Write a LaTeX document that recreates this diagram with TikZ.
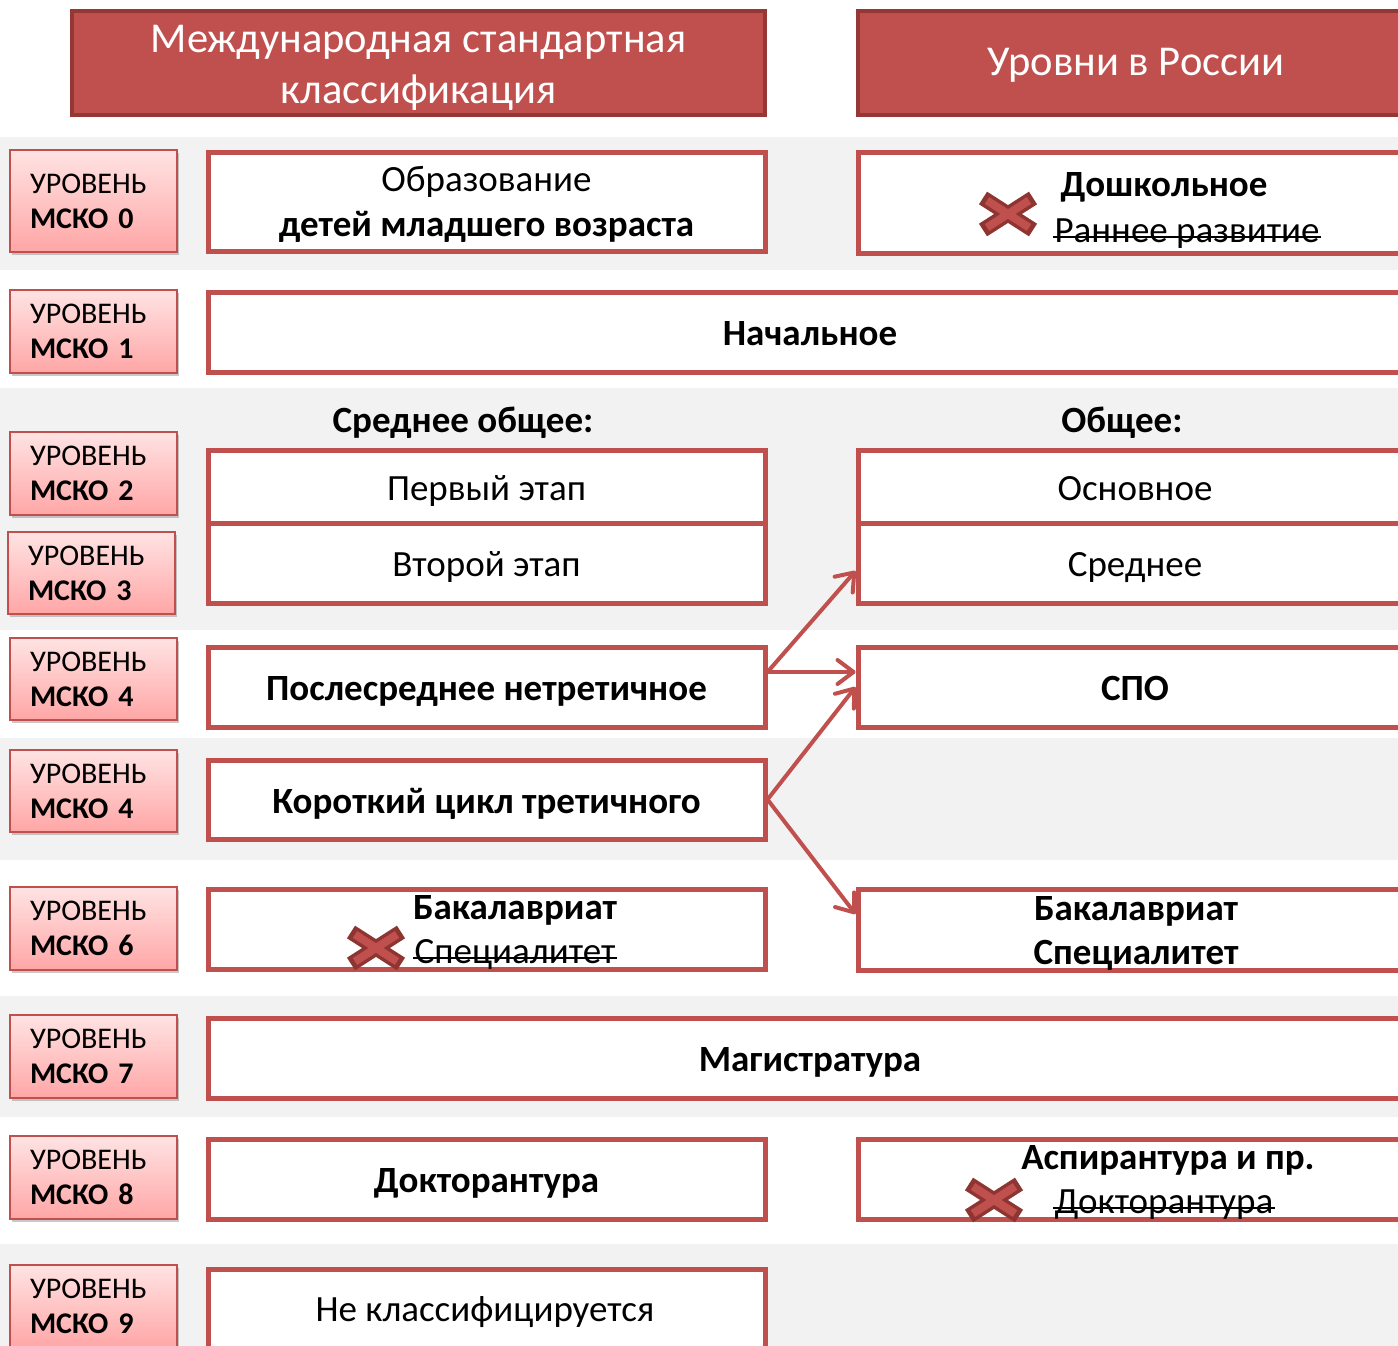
\documentclass[tikz,border=0pt]{standalone}
\usepackage{fontspec}
\setmainfont{Carlito}
\usetikzlibrary{arrows.meta,shadows}
\definecolor{mred}{HTML}{C0504D}
\definecolor{dred}{HTML}{953735}
\definecolor{bgray}{HTML}{F2F2F2}
\definecolor{pinktop}{HTML}{FFE3E3}
\definecolor{pinkbot}{HTML}{FFA6A6}
\definecolor{xdark}{HTML}{8E3532}
\newcommand{\lvtext}[1]{УРОВЕНЬ\\\textbf{МСКО\hspace{10pt}#1}}
\begin{document}
\begin{tikzpicture}[x=1pt,y=-1pt,
  band/.style={fill=bgray, draw=none},
  hdr/.style={draw=dred, line width=4pt, fill=mred,
    drop shadow={shadow xshift=1pt, shadow yshift=-2pt, opacity=.3, fill=black!60}},
  htxt/.style={text=white, inner sep=0pt, text height=30pt, text depth=0pt,
    font=\fontsize{42.5}{50}\selectfont},
  lvl/.style={draw=mred, line width=1.5pt, top color=pinktop, bottom color=pinkbot,
    align=left, text width=127pt, inner xsep=20pt, inner ysep=0pt,
    minimum width=167pt, font=\fontsize{30}{35}\selectfont,
    drop shadow={shadow xshift=2pt, shadow yshift=-3pt, opacity=.35, fill=black!60}},
  box/.style={draw=mred, line width=5pt, fill=white, inner sep=0pt,
    text height=27pt, text depth=0pt, font=\fontsize{37}{45}\selectfont},
  txt/.style={inner sep=0pt, text height=27pt, text depth=0pt, font=\fontsize{37}{45}\selectfont},
  btxt/.style={txt, font=\fontsize{37}{45}\selectfont\bfseries},
  strikeline/.style={draw=black, line width=2pt},
  arr/.style={draw=mred, line width=4pt, line cap=round,
    -{Straight Barb[round,length=16pt,width=24pt]}},
  crossmark/.pic={
    \draw[xdark, line width=15pt] (-25,-16) -- (25,16) (-25,16) -- (25,-16);
    \draw[mred, line width=8pt] (-21,-13.5) -- (21,13.5) (-21,13.5) -- (21,-13.5);
  }
]
\useasboundingbox (0,0) rectangle (1398,1346);
\clip (0,0) rectangle (1398,1346);
\fill[white] (0,0) rectangle (1398,1346);
% background bands
\fill[band] (0,137) rectangle (1398,270);
\fill[band] (0,388) rectangle (1398,630);
\fill[band] (0,738) rectangle (1398,860);
\fill[band] (0,996) rectangle (1398,1117);
\fill[band] (0,1244) rectangle (1398,1346);

% headers
\node[hdr, minimum width=693pt, minimum height=104pt] (hL) at (418.5,63) {};
\node[htxt] (hL1) at (418.5,38) {Международная стандартная};
\node[htxt] (hL2) at (418.5,88) {классификация};
\node[hdr, minimum width=556pt, minimum height=104pt] (hR) at (1136,63) {};
\node[htxt] (hR1) at (1136,61) {Уровни в России};

% level boxes
\node[lvl, minimum height=102pt] (l0) at (93.5,201) {\lvtext{0}};
\node[lvl, minimum height=83pt] (l1) at (93.5,331.5) {\lvtext{1}};
\node[lvl, minimum height=83pt] (l2) at (93.5,473.5) {\lvtext{2}};
\node[lvl, minimum height=82pt] (l3) at (91.5,573) {\lvtext{3}};
\node[lvl, minimum height=82pt] (l4a) at (93.5,679) {\lvtext{4}};
\node[lvl, minimum height=82pt] (l4b) at (93.5,791) {\lvtext{4}};
\node[lvl, minimum height=83pt] (l6) at (93.5,928.5) {\lvtext{6}};
\node[lvl, minimum height=83pt] (l7) at (93.5,1056.5) {\lvtext{7}};
\node[lvl, minimum height=83pt] (l8) at (93.5,1177.5) {\lvtext{8}};
\node[lvl, minimum height=83pt] (l9) at (93.5,1306.5) {\lvtext{9}};

% content boxes
\node[box, minimum width=557pt, minimum height=99pt] (obr) at (486.5,201.5) {};
\node[txt] (obr1) at (486.5,178) {Образование};
\node[btxt] (obr2) at (486.5,223) {детей младшего возраста};

\node[box, minimum width=554pt, minimum height=101pt] (dosh) at (1135,202.5) {};
\node[btxt] (doshT) at (1164,183) {Дошкольное};
\node[txt] (doshS) at (1187,229) {Раннее развитие};
\draw[strikeline] ([xshift=-1pt,yshift=6pt]doshS.base west) -- ([xshift=1pt,yshift=6pt]doshS.base east);
\pic at (1008,214) {crossmark};

\node[box, minimum width=1204pt, minimum height=80pt] (nach) at (810,332) {\textbf{Начальное}};

\node[btxt] (sobT) at (463,419) {Среднее общее:};
\node[btxt] (obT) at (1122,419) {Общее:};
\node[box, minimum width=557pt, minimum height=73pt] (perv) at (486.5,486.5) {Первый этап};
\node[box, minimum width=557pt, minimum height=80pt] (vtor) at (486.5,563) {Второй этап};
\node[box, minimum width=554pt, minimum height=73pt] (osn) at (1135,486.5) {Основное};
\node[box, minimum width=554pt, minimum height=80pt] (sred) at (1135,563) {Среднее};

\node[box, minimum width=557pt, minimum height=80pt] (posl) at (486.5,687) {\textbf{Послесреднее нетретичное}};
\node[box, minimum width=554pt, minimum height=80pt] (spo) at (1135,687) {\textbf{СПО}};
\node[box, minimum width=557pt, minimum height=79pt] (kor) at (486.5,799.5) {\textbf{Короткий цикл третичного}};

\node[box, minimum width=557pt, minimum height=80pt] (bakL) at (486.5,929) {};
\node[btxt] (bakLT) at (515,906) {Бакалавриат};
\node[txt] (bakLS) at (515,950) {Специалитет};
\draw[strikeline] ([xshift=-1pt,yshift=6pt]bakLS.base west) -- ([xshift=1pt,yshift=6pt]bakLS.base east);
\pic at (376,948) {crossmark};

\node[box, minimum width=554pt, minimum height=81pt] (bakR) at (1135,930) {};
\node[btxt] (bakR1) at (1136,907) {Бакалавриат};
\node[btxt] (bakR2) at (1136,951) {Специалитет};

\node[box, minimum width=1204pt, minimum height=80pt] (mag) at (810,1058) {\textbf{Магистратура}};

\node[box, minimum width=557pt, minimum height=80pt] (dokt) at (486.5,1179) {\textbf{Докторантура}};
\node[box, minimum width=554pt, minimum height=80pt] (asp) at (1135,1179) {};
\node[btxt] (aspT) at (1168,1156) {Аспирантура и пр.};
\node[txt] (aspS) at (1164,1200) {Докторантура};
\draw[strikeline] ([xshift=-1pt,yshift=6pt]aspS.base west) -- ([xshift=1pt,yshift=6pt]aspS.base east);
\pic at (994,1200) {crossmark};

\node[box, minimum width=557pt, minimum height=111pt] (nekl) at (486.5,1324.5) {};
\node[txt] (neklT) at (485,1308) {Не классифицируется};

% arrows
\draw[arr] ([yshift=15pt]posl.east) -- ([yshift=-8pt]sred.west);
\draw[arr] ([yshift=15pt]posl.east) -- ([yshift=15pt]spo.west);
\draw[arr] (kor.east) -- (spo.west);
\draw[arr] (kor.east) -- ([yshift=16pt]bakR.west);
\end{tikzpicture}
\end{document}
